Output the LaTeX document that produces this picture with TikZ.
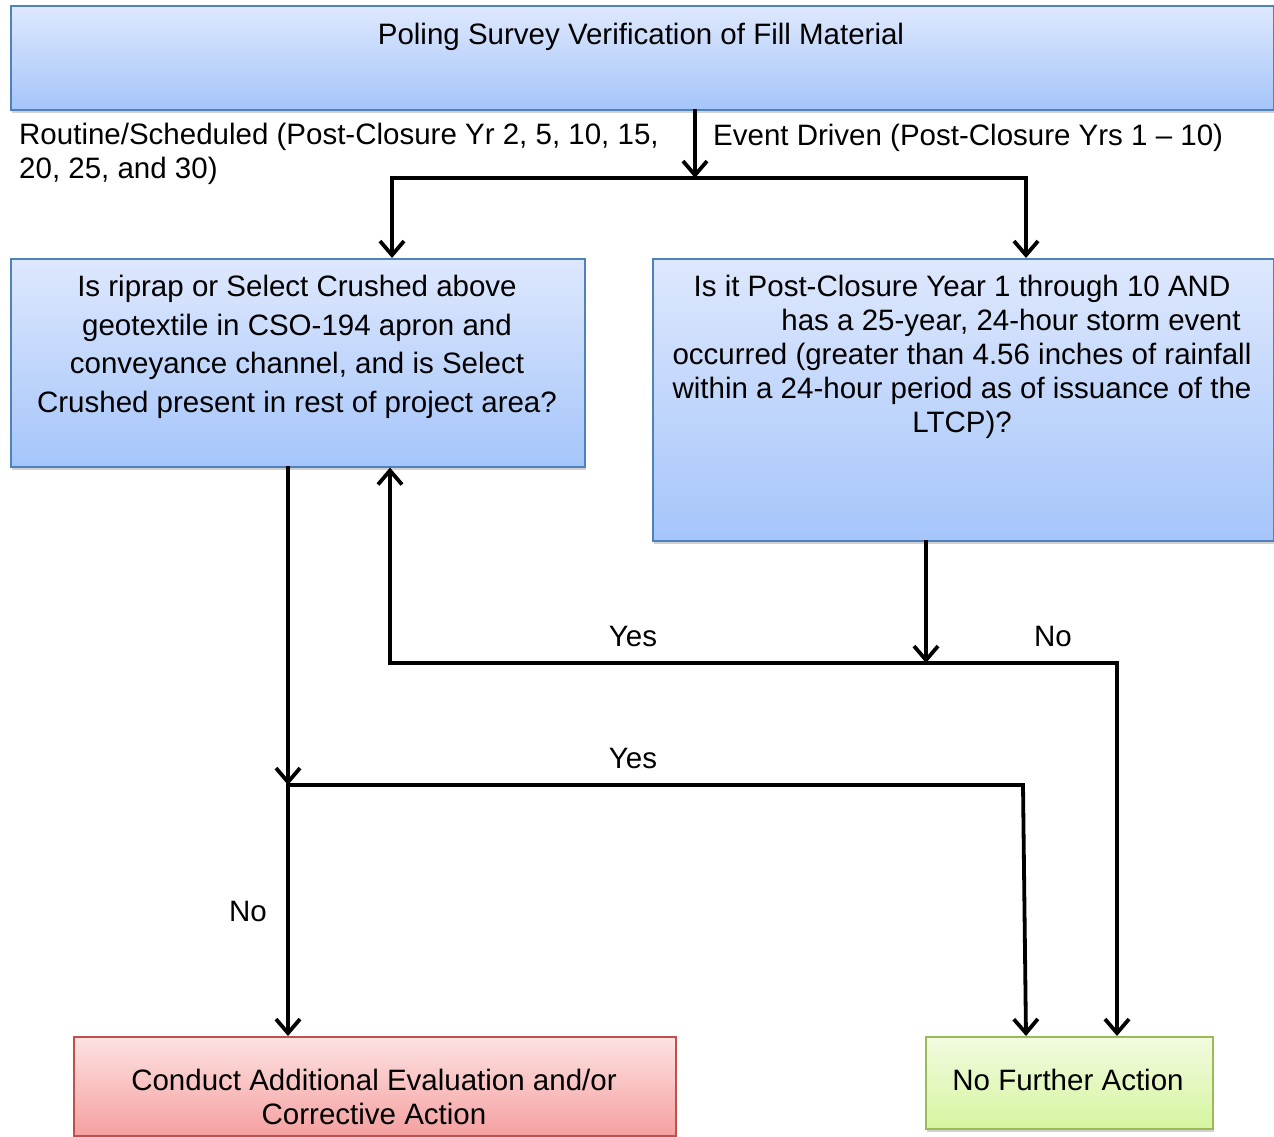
\documentclass[tikz,border=0pt]{standalone}
\usepackage{fontspec}
\setmainfont{Liberation Sans}
\usetikzlibrary{arrows.meta,shadows,calc}
\definecolor{blueedge}{RGB}{79,129,189}
\definecolor{bluetop}{RGB}{222,232,253}
\definecolor{bluebot}{RGB}{165,197,250}
\definecolor{rededge}{RGB}{192,80,77}
\definecolor{redtop}{RGB}{253,226,226}
\definecolor{redbot}{RGB}{245,160,160}
\definecolor{greenedge}{RGB}{155,187,89}
\definecolor{greentop}{RGB}{242,251,224}
\definecolor{greenbot}{RGB}{214,245,160}
\begin{document}
\begin{tikzpicture}[x=1pt,y=-1pt,
  box/.style={draw, line width=1.6pt, inner sep=0pt, anchor=north west,
    drop shadow={shadow xshift=1.5pt, shadow yshift=-3pt, fill=black, opacity=0.18}},
  bluebox/.style={box, draw=blueedge, top color=bluetop, bottom color=bluebot},
  redbox/.style={box, draw=rededge, top color=redtop, bottom color=redbot},
  greenbox/.style={box, draw=greenedge, top color=greentop, bottom color=greenbot},
  txt/.style={font=\fontsize{29.5}{34}\selectfont, inner sep=0pt, anchor=north, align=center},
  lbl/.style={font=\fontsize{29.5}{34}\selectfont, inner sep=0pt, anchor=north west, align=left},
  ln/.style={line width=3.8pt, line cap=rect, line join=miter},
  arr/.style={ln, -{Straight Barb[length=14pt,width=24pt,line width=3.8pt]}},
]
\useasboundingbox (0,0) rectangle (1274,1137);

% boxes
\node[bluebox, minimum width=1263pt, minimum height=104pt] (top) at (10,5) {};
\node[bluebox, minimum width=574pt, minimum height=208pt] (q1) at (10,258) {};
\node[bluebox, minimum width=621pt, minimum height=282pt] (q2) at (652,258) {};
\node[redbox, minimum width=602pt, minimum height=99pt] (red) at (73,1036) {};
\node[greenbox, minimum width=287pt, minimum height=92pt] (green) at (925,1036) {};

% box texts
\node[txt] (ttop) at (641,23) {Poling Survey Verification of Fill Material};
\node[txt, font=\fontsize{29.5}{38.7}\selectfont] (tq1) at (297,275) {Is riprap or Select Crushed above\\geotextile in CSO-194 apron and\\conveyance channel, and is Select\\Crushed present in rest of project area?};
\node[txt] (tq2) at (962,275) {Is it Post-Closure Year 1 through 10 AND\\\hspace*{98pt}has a 25-year, 24-hour storm event\\occurred (greater than 4.56 inches of rainfall\\within a 24-hour period as of issuance of the\\LTCP)?};
\node[txt] (tred) at (374,1069) {Conduct Additional Evaluation and/or\\Corrective Action};
\node[txt] (tgreen) at (1068,1069) {No Further Action};

% labels
\node[lbl] (l1) at (19,123) {Routine/Scheduled (Post-Closure Yr 2, 5, 10, 15,\\20, 25, and 30)};
\node[lbl] (l2) at (713,124) {Event Driven (Post-Closure Yrs 1 – 10)};
\node[txt] (yes1) at (633,626) {Yes};
\node[txt] (no1) at (1053,626) {No};
\node[txt] (yes2) at (633,748) {Yes};
\node[txt] (no2) at (248,901) {No};

% junctions
\coordinate (j1) at (695,178);
\coordinate (jl) at (392,178);
\coordinate (jr) at (1026,178);
\coordinate (j2) at (288,785);
\coordinate (j3) at (1023,785);
\coordinate (j4) at (926,663);
\coordinate (j5) at (390,663);
\coordinate (j6) at (1117,663);

% connectors
\draw[arr] (top.south -| j1) -- (j1);
\draw[arr] (jr) -- (jl) -- (q1.north -| jl);
\draw[arr] (jr) -- (q2.north -| jr);

\draw[arr] (q1.south -| j2) -- (j2);
\draw[arr] (j2) -- (red.north -| j2);
\draw[arr] (j2) -- (j3) -- ($(green.north west)+(101,0)$);

\draw[arr] (q2.south -| j4) -- (j4);
\draw[arr] (j6) -- (j5) -- (q1.south -| j5);
\draw[arr] (j6) -- (green.north -| j6);
\end{tikzpicture}
\end{document}
